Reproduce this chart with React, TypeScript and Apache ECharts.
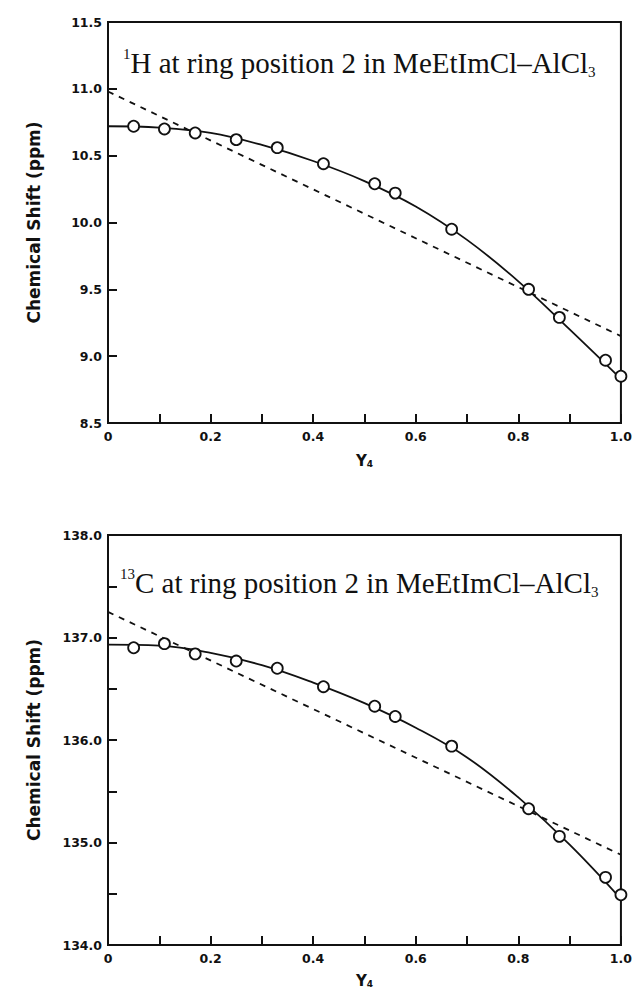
import React, { useEffect, useRef } from "react";
import * as echarts from "echarts";

// Mole fraction Y4 of the measured points
const pointX = [0.05, 0.11, 0.17, 0.25, 0.33, 0.42, 0.52, 0.56, 0.67, 0.82, 0.88, 0.97, 1.0];
// 1H chemical shift (ppm)
const shiftH = [10.72, 10.7, 10.67, 10.62, 10.56, 10.44, 10.29, 10.22, 9.95, 9.5, 9.29, 8.97, 8.85];
// 13C chemical shift (ppm)
const shiftC = [136.9, 136.94, 136.84, 136.77, 136.7, 136.52, 136.33, 136.23, 135.94, 135.33, 135.06, 134.66, 134.49];

// fitted (solid) curves
const fitX = [0, 0.1, 0.2, 0.3, 0.4, 0.5, 0.6, 0.7, 0.8, 0.9, 1.0];
const fitH = [10.72, 10.71, 10.67, 10.58, 10.46, 10.31, 10.12, 9.87, 9.56, 9.2, 8.83];
const fitC = [136.93, 136.92, 136.85, 136.73, 136.56, 136.36, 136.12, 135.83, 135.44, 134.98, 134.45];

// dashed straight lines
const lineX = [0, 1.0];
const lineH = [10.98, 9.15];
const lineC = [137.25, 134.88];

const titleH = "{sup|1}{m|H at ring position 2 in MeEtImCl–AlCl}{sub|3}";
const titleC = "{sup|13}{m|C at ring position 2 in MeEtImCl–AlCl}{sub|3}";

const INK = "#111";

function pairs(xs: number[], ys: number[]) {
  return xs.map((x, i) => [x, ys[i]]);
}

export default function App() {
  const ref = useRef<HTMLDivElement>(null);
  useEffect(() => {
    document.body.style.margin = "0";
    if (!ref.current) return;
    const chart = echarts.init(ref.current, undefined, { renderer: "svg" });
    const labelFont = {
      color: INK,
      fontFamily: "DejaVu Sans",
      fontWeight: "bold" as const,
      fontSize: 12.5,
    };
    const xAxisBase = (gridIndex: number, gap: number) => ({
      type: "value" as const,
      gridIndex,
      min: 0,
      max: 1,
      interval: 0.1,
      name: "{a|Y}{b|4}",
      nameLocation: "middle" as const,
      nameGap: gap,
      nameTextStyle: {
        rich: {
          a: { fontFamily: "DejaVu Sans", fontWeight: "bold", fontSize: 15, color: INK },
          b: { fontFamily: "DejaVu Sans", fontWeight: "bold", fontSize: 9, color: INK, verticalAlign: "bottom" },
        },
      },
      axisLine: { show: true, lineStyle: { color: INK, width: 2 } },
      axisTick: { show: true, inside: true, length: 9, lineStyle: { color: INK, width: 2 } },
      splitLine: { show: false },
      axisLabel: {
        ...labelFont,
        margin: 7,
        formatter: (v: number) => {
          const k = Math.round(v * 10);
          if (k % 2 !== 0) return "";
          return k === 0 ? "0" : v.toFixed(1);
        },
      },
    });
    const yAxisBase = (gridIndex: number, min: number, max: number, labelEvery: number) => ({
      type: "value" as const,
      gridIndex,
      min,
      max,
      interval: 0.5,
      name: "Chemical Shift (ppm)",
      nameLocation: "middle" as const,
      nameGap: 66,
      nameTextStyle: { fontFamily: "DejaVu Sans", fontWeight: "bold", fontSize: 17, color: INK },
      axisLine: { show: true, lineStyle: { color: INK, width: 2 } },
      axisTick: { show: true, inside: true, length: 9, lineStyle: { color: INK, width: 2 } },
      splitLine: { show: false },
      axisLabel: {
        ...labelFont,
        margin: 6,
        formatter: (v: number) => {
          const r = Math.round(v / labelEvery) * labelEvery;
          if (Math.abs(r - v) > 1e-6) return "";
          return v.toFixed(1);
        },
      },
    });
    const titleRich = {
      m: { fontFamily: "Liberation Serif", fontWeight: "normal", fontSize: 29, color: INK, lineHeight: 33 },
      sup: { fontFamily: "Liberation Serif", fontWeight: "normal", fontSize: 15, color: INK, verticalAlign: "top", lineHeight: 17 },
      sub: { fontFamily: "Liberation Serif", fontWeight: "normal", fontSize: 15, color: INK, verticalAlign: "bottom", lineHeight: 17 },
    };
    const scatterStyle = {
      type: "scatter" as const,
      symbol: "circle",
      symbolSize: 11,
      itemStyle: { color: "#fff", borderColor: INK, borderWidth: 1.8, opacity: 1 },
      z: 5,
    };
    const solidStyle = {
      type: "line" as const,
      smooth: 0.4,
      showSymbol: false,
      symbol: "none",
      lineStyle: { color: INK, width: 1.8 },
      z: 3,
    };
    const dashStyle = {
      type: "line" as const,
      showSymbol: false,
      symbol: "none",
      lineStyle: { color: INK, width: 1.8, type: [6, 6] },
      z: 2,
    };
    chart.setOption({
      animation: false,
      backgroundColor: "#fff",
      title: [
        { text: titleH, left: 123, top: 46, padding: 0, textStyle: { fontWeight: "normal", rich: titleRich } },
        { text: titleC, left: 120, top: 566, padding: 0, textStyle: { fontWeight: "normal", rich: titleRich } },
      ],
      grid: [
        { left: 108, right: 13, top: 22, height: 401, show: true, borderColor: INK, borderWidth: 2, backgroundColor: "transparent" },
        { left: 108, right: 13, top: 535, height: 411, show: true, borderColor: INK, borderWidth: 2, backgroundColor: "transparent" },
      ],
      xAxis: [xAxisBase(0, 30), xAxisBase(1, 28)],
      yAxis: [yAxisBase(0, 8.5, 11.5, 0.5), yAxisBase(1, 134, 138, 1)],
      series: [
        { ...dashStyle, xAxisIndex: 0, yAxisIndex: 0, data: pairs(lineX, lineH) },
        { ...solidStyle, xAxisIndex: 0, yAxisIndex: 0, data: pairs(fitX, fitH) },
        { ...scatterStyle, xAxisIndex: 0, yAxisIndex: 0, data: pairs(pointX, shiftH) },
        { ...dashStyle, xAxisIndex: 1, yAxisIndex: 1, data: pairs(lineX, lineC) },
        { ...solidStyle, xAxisIndex: 1, yAxisIndex: 1, data: pairs(fitX, fitC) },
        { ...scatterStyle, xAxisIndex: 1, yAxisIndex: 1, data: pairs(pointX, shiftC) },
      ],
    });
    return () => chart.dispose();
  }, []);
  return <div ref={ref} style={{ width: 635, height: 989 }} />;
}
